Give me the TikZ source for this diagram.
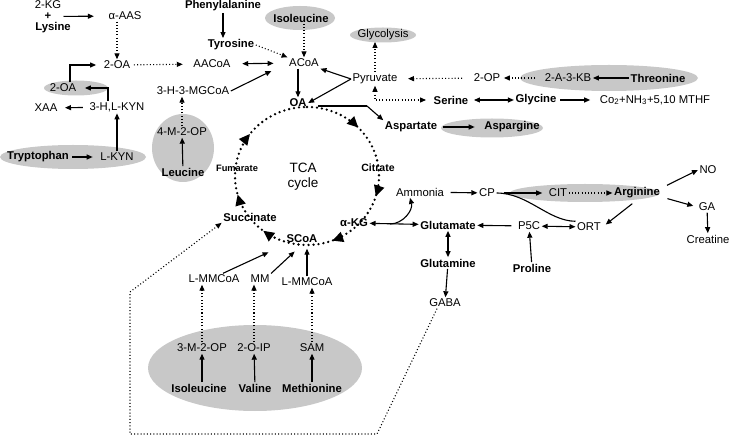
\documentclass[tikz,border=0pt]{standalone}
\usepackage{fontspec}
\setmainfont{Liberation Sans}
\usetikzlibrary{arrows.meta,decorations.markings}
\definecolor{blobgrey}{RGB}{200,200,200}

\begin{document}
\begin{tikzpicture}[x=1pt,y=-1pt,
>={Triangle[length=6pt,width=5pt]},
metab/.style={
% plain metabolite:
inner sep=1.5pt,
font=\fontsize{11.3}{13}\selectfont
},
amino/.style={
% bold amino acid:
metab,
font=\fontsize{11.3}{13}\selectfont\bfseries
},
blob/.style={fill=blobgrey},
flow/.style={->,line width=1.1pt},
route/.style={flow,dash pattern=on 1pt off 2.2pt},
ring/.style={line width=2.6pt,dash pattern=on 0pt off 5pt,line cap=round},
ringtip/.style={postaction={decorate,decoration={markings,
  mark=at position #1 with {\arrow{Triangle[length=11pt,width=10pt]}}}}}
]
\useasboundingbox (0,0) rectangle (730,435);

% grey backgrounds
\fill[blob] (300,18) ellipse [x radius=35,y radius=12];
\fill[blob] (383,35) ellipse [x radius=33,y radius=7.5];
\fill[blob] (609,78) ellipse [x radius=89,y radius=13];
\fill[blob] (492,128) ellipse [x radius=51,y radius=9.5];
\fill[blob] (76,88) ellipse [x radius=32,y radius=7.5];
\fill[blob] (73,157) ellipse [x radius=73,y radius=12];
\fill[blob] (183,148) ellipse [x radius=31,y radius=34];
\fill[blob] (585,193) ellipse [x radius=75,y radius=9];
\fill[blob] (255,368) ellipse [x radius=107,y radius=43];

% top left
\node[metab,inner sep=0pt] (kg) at (48,5) {2-KG};
\node[amino,inner sep=0pt] (plus) at (48,16.5) {+};
\node[amino,inner sep=0pt] (lys) at (53,28) {Lysine};
\node[metab] (aas) at (125,16) {α-AAS};
\node[metab] (oatop) at (117,65) {2-OA};
\node[metab] (aacoa) at (212,64) {AACoA};
\node[amino] (phe) at (223,6) {Phenylalanine};
\node[amino] (tyr) at (231,45) {Tyrosine};
\node[amino] (ilea) at (301,18) {Isoleucine};
\node[metab] (acoa) at (304,63) {ACoA};
\node[amino] (oa) at (298,103) {OA};
\node[metab] (mgcoa) at (193,91) {3-H-3-MGCoA};
\node[metab] (oagrey) at (63,88) {2-OA};
\node[metab] (xaa) at (46,108) {XAA};
\node[metab] (hkyn) at (117,107) {3-H,L-KYN};
\node[amino] (trp) at (38,157) {Tryptophan};
\node[metab] (lkyn) at (117,157) {L-KYN};
\node[metab] (mop) at (182,132) {4-M-2-OP};
\node[amino] (leu) at (183,172) {Leucine};

% top right
\node[metab] (pyr) at (375,79) {Pyruvate};
\node[metab] (glyc) at (383,35) {Glycolysis};
\node[metab] (op) at (487,78) {2-OP};
\node[metab] (kb) at (568,78) {2-A-3-KB};
\node[amino] (thr) at (658,78) {Threonine};
\node[amino] (ser) at (451,100) {Serine};
\node[amino] (gly) at (536,100) {Glycine};
\node[metab] (co2) at (655,100) {Co\textsubscript{2}+NH\textsubscript{3}+5,10 MTHF};
\node[amino] (asp) at (411,127) {Aspartate};
\node[amino] (asn) at (512,127) {Aspargine};

% TCA cycle
\coordinate (hub) at (307,176);
\node[metab,font=\fontsize{13.5}{15}\selectfont,align=center] (tca) at (303,177) {TCA\\cycle};
\node[amino,font=\fontsize{9.3}{11}\selectfont\bfseries] (fum) at (237,168) {Fumarate};
\node[amino,font=\fontsize{10.5}{12}\selectfont\bfseries] (citr) at (378,168) {Citrate};
\node[amino] (succ) at (250,217) {Succinate};
\node[amino] (scoa) at (302,239) {SCoA};
\node[amino] (akg) at (354,223) {α-KG};

% right
\node[metab] (amm) at (420,192) {Ammonia};
\node[metab] (cp) at (487,193) {CP};
\node[metab] (cit) at (558,193) {CIT};
\node[amino] (arg) at (637,193) {Arginine};
\node[metab] (no) at (708,170) {NO};
\node[metab] (ga) at (707,207) {GA};
\node[metab] (crea) at (708,239) {Creatine};
\node[amino] (glu) at (448,225) {Glutamate};
\node[metab] (p5c) at (529,226) {P5C};
\node[metab] (ort) at (589,227) {ORT};
\node[amino] (gln) at (448,263) {Glutamine};
\node[amino] (pro) at (532,268) {Proline};
\node[metab] (gaba) at (445,303) {GABA};

% bottom
\node[metab] (mmcoaa) at (214,279) {L-MMCoA};
\node[metab] (mm) at (260,279) {MM};
\node[metab] (mmcoab) at (307,282) {L-MMCoA};
\node[metab] (mtop) at (202,348) {3-M-2-OP};
\node[metab] (oip) at (254,348) {2-O-IP};
\node[metab] (sam) at (312,348) {SAM};
\node[amino] (ileb) at (199,388) {Isoleucine};
\node[amino] (val) at (255,388) {Valine};
\node[amino] (met) at (312,388) {Methionine};

\coordinate (oabend) at (367,106);
\coordinate (junc) at (390,224);
\coordinate (fba) at (377,434);
\coordinate (fbb) at (130,434);
\coordinate (fbc) at (130,292);

% the cycle
\draw[ring,ringtip=0.128,ringtip=0.297,ringtip=0.442,ringtip=0.606,ringtip=0.708,ringtip=0.853]
  (hub) ++(0,-69) arc[start angle=-90,end angle=270,x radius=72,y radius=69];

% top left arrows
\draw[flow,shorten <=12pt,shorten >=13pt] (plus) -- (aas);
\draw[route] (oatop |- aas.south) -- (oatop);
\draw[route,shorten <=2pt,shorten >=9pt] (oatop) -- (aacoa);
\draw[flow,<->,shorten <=10pt,shorten >=14pt] (aacoa) -- (acoa);
\draw[flow] (phe) -- (phe |- tyr.north);
\draw[route] (tyr.east) -- (acoa.north west);
\draw[route] (acoa.north |- ilea.south) -- (acoa.north);
\draw[flow] (oa |- acoa.south) -- (oa);
\draw[flow,shorten >=18pt] (mgcoa.east) -- (acoa.west);
\draw[flow] (pyr.west) -- (acoa.south east);
\draw[flow] (pyr.west) -- (oa.east);
\draw[flow,shorten <=5pt,shorten >=6pt] (hkyn) -- (xaa);
\draw[flow,shorten >=7pt] ([xshift=-9pt]hkyn.north) |- (oagrey);
\draw[flow,shorten >=6pt] ([xshift=7pt]oagrey.north) |- (oatop);
\draw[flow,shorten <=2pt,shorten >=6pt] (trp) -- (lkyn);
\draw[flow] (lkyn) -- (hkyn);
\draw[flow] (leu) -- (mop);
\draw[route] (mop) -- (mop |- mgcoa.south);

% top right arrows
\draw[route] (pyr.north) -- (pyr.north |- glyc.south);
\draw[route,shorten <=10pt,shorten >=9pt] (op) -- (pyr);
\draw[route,shorten <=8pt,shorten >=2pt] (kb) -- (op);
\draw[flow] (thr) -- (kb);
\draw[route,<->,shorten >=6pt] (pyr.south) |- (ser);
\draw[flow,<->,shorten <=4pt] (ser) -- (gly);
\draw[flow,shorten <=2pt,shorten >=8pt] (gly) -- (co2);
\draw[line width=1.1pt,shorten <=10pt] (oa.east |- oabend) -- (oabend);
\draw[flow] (oabend) -- (asp.north west);
\draw[flow,shorten <=4pt,shorten >=8pt] (asp) -- (asn);

% right arrows
\draw[flow,<->] (akg) -- (glu);
\draw[flow] (junc) to[out=0,in=-75] ([xshift=-10pt]amm.south);
\draw[flow,shorten <=5pt] (amm) -- (cp);
\draw[flow,shorten <=7pt,shorten >=5pt] (cp) -- (cit);
\draw[route] (cit) -- (arg);
\draw[line width=1.1pt] (cp.east) .. controls (528,193) and (548,221) .. (ort.north west);
\draw[flow,shorten <=6pt,shorten >=4pt] (arg.south) -- (ort.east);
\draw[flow,<->] (p5c) -- (ort);
\draw[flow,shorten <=5pt] (p5c) -- (glu);
\draw[flow] (pro) -- (p5c);
\draw[flow,<->] (glu) -- (gln);
\draw[flow] (gln) -- (gaba);
\draw[flow,shorten <=6pt] ([yshift=5pt]arg.east) -- (no.west);
\draw[flow,shorten <=6pt,shorten >=4pt] ([yshift=-4pt]arg.east) -- (ga.west);
\draw[flow] (ga) -- (crea);

% bottom arrows
\draw[flow,shorten >=18pt] ([xshift=9pt]mmcoaa.north) -- (scoa.south west);
\draw[flow,shorten >=10pt] (mm.north east) -- (scoa.south);
\draw[flow,shorten >=4pt] (mmcoab.north) -- (mmcoab.north |- scoa.south);
\draw[route] (mtop) -- (mtop |- mmcoaa.south);
\draw[route] (oip) -- (oip |- mm.south);
\draw[route] (sam) -- (sam |- mmcoab.south);
\draw[flow] (mtop |- ileb.north) -- (mtop);
\draw[flow] (val) -- (oip);
\draw[flow] (met) -- (sam);
\draw[route] ([xshift=-8pt]gaba.south) -- (fba) -- (fbb) -- (fbc) -- (succ.south west);
\end{tikzpicture}
\end{document}
